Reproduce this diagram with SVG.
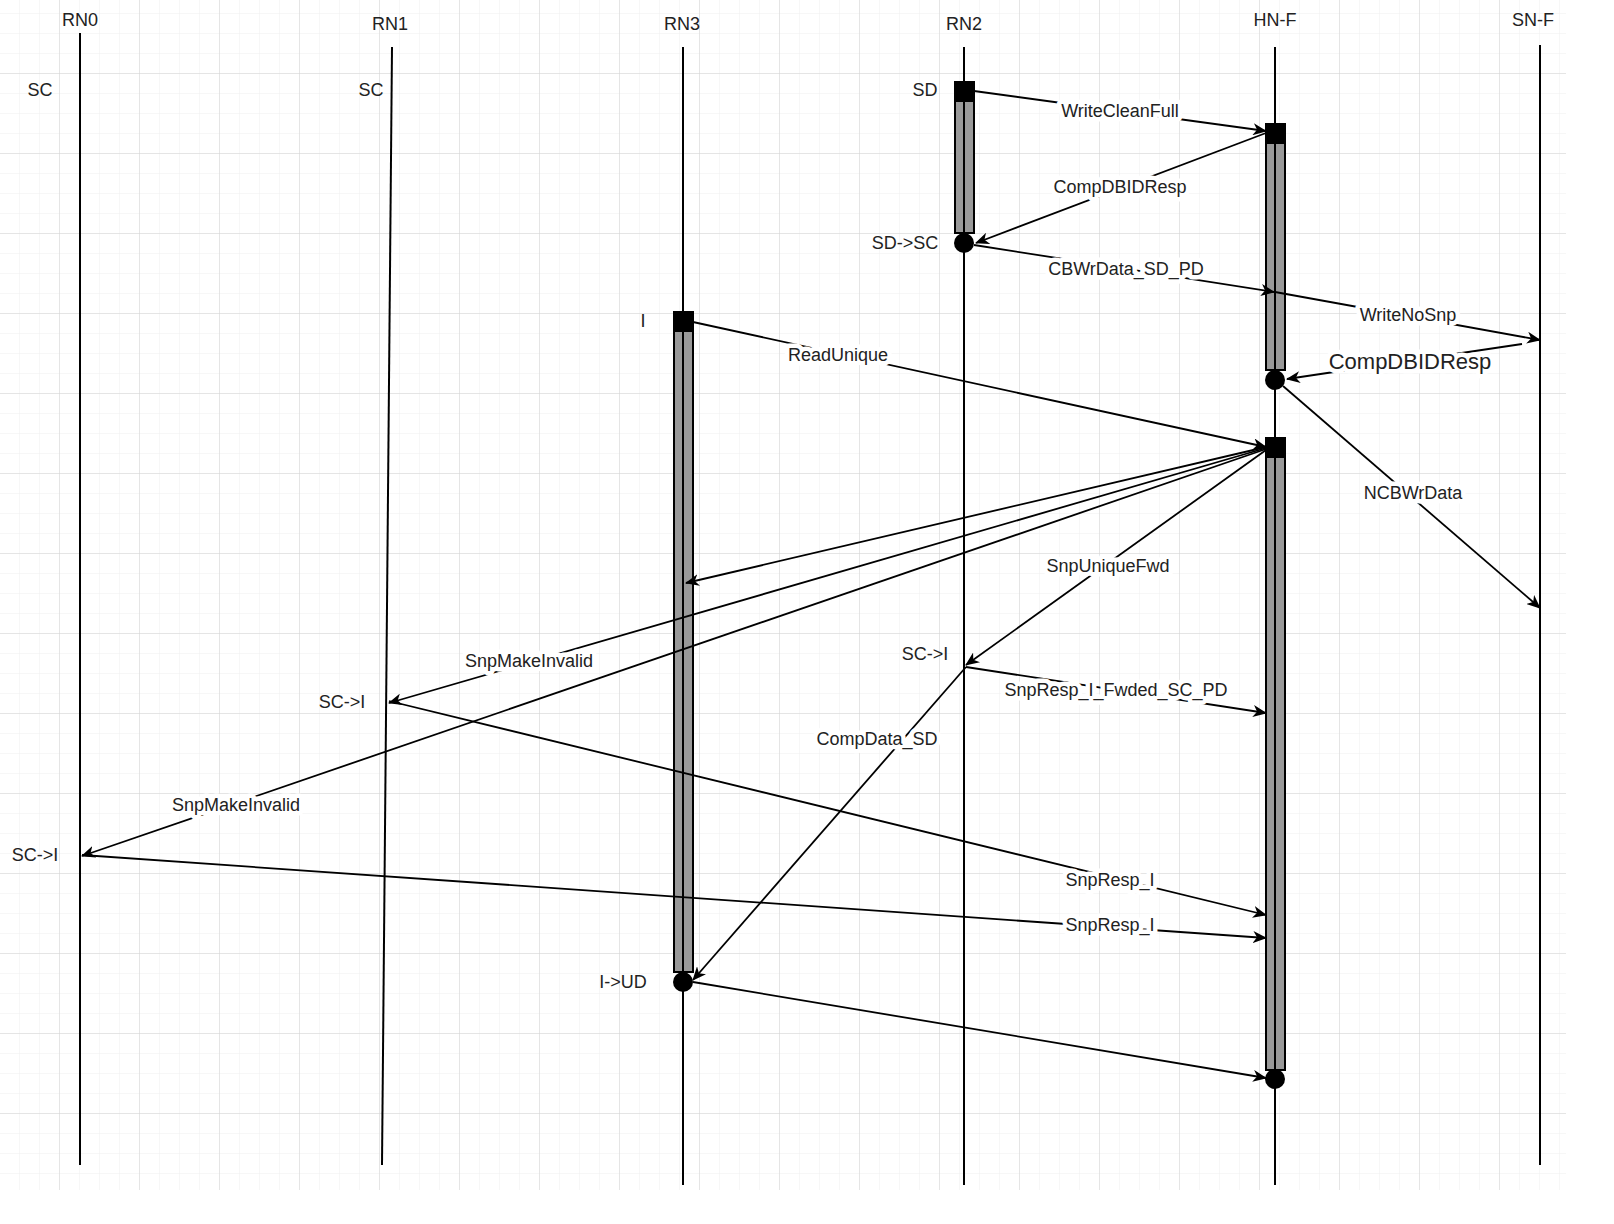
<svg xmlns="http://www.w3.org/2000/svg" width="1614" height="1224" viewBox="0 0 1614 1224">
<defs>
<pattern id="mn" width="20" height="20" patternUnits="userSpaceOnUse"><path d="M20 0V20H0" fill="none" stroke="#efefef" stroke-width="1"/></pattern>
<pattern id="mj" width="80" height="80" patternUnits="userSpaceOnUse" x="-20" y="-6"><rect width="80" height="80" fill="url(#mn)"/><path d="M80 0V80H0" fill="none" stroke="#d4d4d4" stroke-width="1"/></pattern>
<marker id="ar" viewBox="0 0 14 12" refX="13" refY="6" markerWidth="14" markerHeight="12" markerUnits="userSpaceOnUse" orient="auto"><path d="M0 0L14 6L0 12L4 6Z" fill="#000"/></marker>
</defs>
<style>
text{font-family:"Liberation Sans",Arial,sans-serif;font-size:18px;fill:#222;text-anchor:middle;dominant-baseline:central}
.lb{paint-order:stroke;stroke:#fff;stroke-width:9px;stroke-linejoin:round}
.ll{stroke:#000;stroke-width:2;fill:none}
.c{stroke:#000;stroke-width:1.8;fill:none;marker-end:url(#ar)}
.act{fill:#999;stroke:#000;stroke-width:2}
</style>
<rect width="1614" height="1224" fill="#fff"/>
<rect x="0" y="0" width="1566" height="1190" fill="url(#mj)"/>
<g id="headers">
<text x="80" y="20">RN0</text><text x="390" y="24">RN1</text><text x="682" y="24">RN3</text><text x="964" y="24">RN2</text><text x="1275" y="20">HN-F</text><text x="1533" y="20">SN-F</text>
</g>
<g id="lifelines">
<line class="ll" x1="80" y1="33" x2="80" y2="1165"/>
<line class="ll" x1="392" y1="47" x2="382" y2="1165"/>
<line class="ll" x1="683" y1="47" x2="683" y2="1185"/>
<line class="ll" x1="964" y1="47" x2="964" y2="1185"/>
<line class="ll" x1="1275" y1="47" x2="1275" y2="1185"/>
<line class="ll" x1="1540" y1="45" x2="1540" y2="1165"/>
</g>
<g id="activations">
<rect class="act" x="955" y="92" width="19" height="141"/><line class="ll" x1="964" y1="92" x2="964" y2="233"/><rect x="954" y="81" width="21" height="21"/><circle cx="964" cy="243" r="10"/>
<rect class="act" x="1266" y="133" width="19" height="237"/><line class="ll" x1="1275" y1="133" x2="1275" y2="370"/><rect x="1265" y="123" width="21" height="21"/><circle cx="1275" cy="380" r="10"/>
<rect class="act" x="1266" y="448" width="19" height="622"/><line class="ll" x1="1275" y1="448" x2="1275" y2="1070"/><rect x="1265" y="437" width="21" height="21"/><circle cx="1275" cy="1079" r="10"/>
<rect class="act" x="674" y="322" width="19" height="650"/><line class="ll" x1="683" y1="322" x2="683" y2="972"/><rect x="673" y="311" width="21" height="21"/><circle cx="683" cy="982" r="10"/>
</g>
<g id="states">
<text x="40" y="90">SC</text><text x="371" y="90">SC</text><text x="925" y="90">SD</text><text x="905" y="243">SD-&gt;SC</text><text x="643" y="321">I</text><text x="925" y="654">SC-&gt;I</text><text x="342" y="702">SC-&gt;I</text><text x="35" y="855">SC-&gt;I</text><text x="623" y="982">I-&gt;UD</text>
</g>
<g id="connectors">
<line class="c" x1="974" y1="91" x2="1266" y2="131"/>
<line class="c" x1="1266" y1="133" x2="976" y2="243"/>
<line class="c" x1="974" y1="245" x2="1274" y2="292"/>
<line class="c" x1="1275" y1="292" x2="1540" y2="340"/>
<line class="c" x1="1522" y1="344" x2="1287" y2="379"/>
<line class="c" x1="1283" y1="386" x2="1540" y2="608"/>
<line class="c" x1="693" y1="322" x2="1266" y2="447"/>
<line class="c" x1="1266" y1="447" x2="686" y2="583"/>
<line class="c" x1="1266" y1="448" x2="389" y2="703"/>
<line class="c" x1="1266" y1="449" x2="82" y2="856"/>
<line class="c" x1="1266" y1="450" x2="966" y2="665"/>
<line class="c" x1="966" y1="667" x2="1266" y2="713"/>
<line class="c" x1="966" y1="667" x2="693" y2="980"/>
<line class="c" x1="389" y1="701" x2="1266" y2="915"/>
<line class="c" x1="82" y1="855" x2="1266" y2="938"/>
<line class="c" x1="693" y1="982" x2="1266" y2="1078"/>
</g>
<g id="labels">
<text class="lb" x="1120" y="111">WriteCleanFull</text>
<text class="lb" x="1120" y="187">CompDBIDResp</text>
<text class="lb" x="1126" y="269">CBWrData_SD_PD</text>
<text class="lb" x="1408" y="315">WriteNoSnp</text>
<text class="lb" x="1410" y="361" style="font-size:22px">CompDBIDResp</text>
<text class="lb" x="1413" y="493">NCBWrData</text>
<text class="lb" x="838" y="355">ReadUnique</text>
<text class="lb" x="529" y="661">SnpMakeInvalid</text>
<text class="lb" x="236" y="805">SnpMakeInvalid</text>
<text class="lb" x="1108" y="566">SnpUniqueFwd</text>
<text class="lb" x="1116" y="690">SnpResp_I_Fwded_SC_PD</text>
<text class="lb" x="877" y="739">CompData_SD</text>
<text class="lb" x="1110" y="880">SnpResp_I</text>
<text class="lb" x="1110" y="925">SnpResp_I</text>
</g>
</svg>
